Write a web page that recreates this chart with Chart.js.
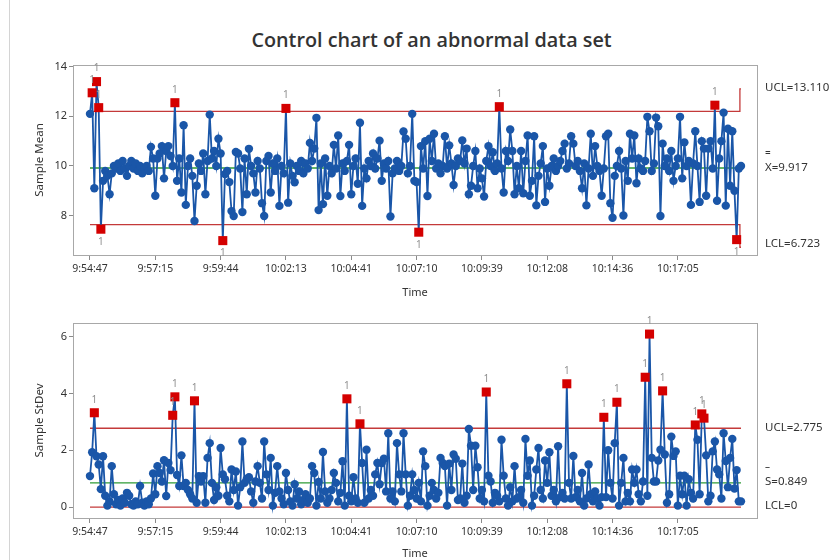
<!DOCTYPE html>
<html lang="en">
<head>
  <meta charset="UTF-8">
  <title>Control chart of an abnormal data set</title>
  <script src="https://cdn.jsdelivr.net/npm/chart.js"></script>
  <style>
    html, body { margin: 0; padding: 0; background: #fff; }
    body { width: 837px; height: 560px; position: relative; overflow: hidden; }
    .frame { position: absolute; left: 9px; top: 0; width: 1px; height: 560px; background: #d4d4d4; }
    h1 { position: absolute; left: 0; top: 27px; width: 863px; margin: 0; text-align: center;
         font: 600 19.8px "Open Sans", sans-serif; color: #333; line-height: 26px; }
    canvas { position: absolute; left: 0; }
    #meanChart { top: 0; }
    #sdChart { top: 300px; }
  </style>
</head>
<body>
  <div class="frame"></div>
  <h1>Control chart of an abnormal data set</h1>
  <canvas id="meanChart" width="837" height="310"></canvas>
  <canvas id="sdChart" width="837" height="260"></canvas>
  <script>
    // time stamps shown under every 30th subgroup
    const timeLabels = ['9:54:47', '9:57:15', '9:59:44', '10:02:13', '10:04:41',
                        '10:07:10', '10:09:39', '10:12:08', '10:14:36', '10:17:05'];
    const tickStep = 30;

    // subgroup means
    const sampleMeans = [
      12.1, 12.95, 9.1, 13.4, 12.35, 7.45, 9.4, 9.8, 9.6, 8.86,
      9.7, 10.0, 9.9, 10.1, 9.8, 10.2, 9.9, 9.6, 10.0, 10.2,
      9.9, 10.1, 9.8, 10.0, 9.7, 9.9, 10.0, 9.8, 10.77, 10.3,
      8.8, 10.3, 10.5, 10.8, 9.5, 10.6, 10.8, 10.4, 10.0, 12.55,
      9.4, 10.3, 8.93, 11.64, 8.43, 10.0, 10.3, 9.6, 7.78, 9.2,
      10.1, 9.8, 10.5, 8.86, 10.2, 12.07, 10.3, 10.6, 10.0, 11.1,
      10.5, 6.99, 9.67, 9.8, 9.35, 8.18, 7.98, 10.56, 10.5, 9.9,
      8.14, 10.3, 8.86, 10.69, 10.0, 9.7, 8.93, 10.2, 9.9, 8.5,
      7.98, 10.2, 10.4, 8.93, 10.1, 9.8, 10.3, 8.39, 10.0, 9.7,
      12.32, 8.52, 10.1, 9.6, 9.34, 10.0, 9.8, 10.2, 9.7, 10.1,
      9.9, 10.93, 10.2, 10.7, 11.94, 8.22, 10.1, 8.46, 10.3, 8.8,
      10.0, 9.7, 10.85, 9.9, 11.23, 8.79, 10.1, 9.8, 10.2, 10.85,
      8.86, 10.0, 10.3, 9.28, 11.74, 8.39, 9.9, 9.5, 10.2, 10.0,
      10.5, 9.9, 10.3, 11.02, 9.4, 10.1, 9.9, 10.2, 7.96, 9.7,
      9.9, 10.2, 9.8, 10.0, 11.39, 11.1, 9.7, 10.0, 12.1, 9.4,
      9.35, 7.33, 10.8, 9.9, 11.0, 8.79, 11.1, 10.2, 11.3, 9.9,
      10.1, 9.7, 10.0, 11.2, 9.9, 10.83, 10.1, 9.23, 10.0, 10.3,
      10.2, 11.03, 10.1, 10.7, 8.86, 9.2, 10.0, 10.6, 9.1, 9.9,
      9.5, 8.77, 10.2, 10.8, 10.0, 10.55, 9.8, 10.1, 12.39, 9.9,
      8.93, 10.6, 10.2, 11.47, 10.6, 8.86, 10.0, 9.1, 10.6, 8.9,
      10.2, 11.23, 8.8, 9.4, 11.2, 8.41, 9.6, 10.1, 10.8, 8.55,
      9.9, 9.2, 10.0, 10.3, 9.8, 10.0, 10.2, 10.6, 10.9, 9.9,
      10.1, 11.2, 10.9, 10.0, 10.2, 9.8, 9.1, 10.1, 8.41, 9.9,
      11.3, 9.6, 10.8, 10.0, 9.8, 8.8, 9.9, 11.2, 11.3, 8.5,
      7.91, 9.6, 10.0, 10.6, 9.9, 8.0, 10.2, 9.4, 11.3, 10.3,
      11.23, 9.3, 10.3, 9.9, 9.8, 10.2, 11.98, 11.4, 9.8, 10.1,
      11.95, 11.6, 7.98, 10.9, 10.0, 10.3, 9.8, 10.6, 9.4, 10.0,
      10.3, 11.98, 9.5, 10.95, 10.0, 10.2, 8.43, 10.1, 11.4, 10.0,
      8.55, 11.0, 10.7, 8.8, 10.7, 11.0, 9.9, 12.45, 8.6, 10.3,
      11.0, 12.15, 8.4, 11.5, 9.2, 11.4, 9.0, 7.03, 9.9, 10.0
    ];

    // subgroup standard deviations
    const sampleStDevs = [
      1.09, 1.93, 3.32, 1.79, 1.5, 0.63, 1.79, 0.4, 0.05, 0.2,
      1.44, 0.45, 0.1, 0.25, 0.05, 0.3, 0.15, 0.5, 0.4, 0.1,
      0.05, 0.2, 0.1, 0.74, 0.15, 0.05, 0.2, 0.1, 0.3, 1.18,
      0.45, 1.44, 1.2, 0.9, 1.65, 0.39, 1.55, 1.3, 3.23, 3.88,
      1.13, 0.74, 1.82, 0.74, 0.85, 0.6, 0.45, 0.3, 3.74, 0.15,
      1.09, 0.9, 1.09, 0.15, 1.73, 2.25, 0.85, 0.25, 0.7, 0.4,
      2.08, 1.15, 0.98, 0.4, 0.2, 1.32, 0.6, 1.25, 0.05, 0.7,
      2.31, 0.85, 0.98, 1.05, 0.55, 0.15, 0.9, 1.44, 0.85, 0.3,
      2.31, 1.15, 0.6, 1.73, 0.05, 0.5, 1.44, 0.55, 0.3, 0.1,
      1.2, 0.6, 0.2, 0.05, 0.8, 0.3, 0.55, 0.1, 0.25, 0.45,
      0.15, 0.3, 1.44, 1.2, 0.05, 0.88, 0.3, 1.94, 0.55, 0.15,
      0.3, 0.6, 1.2, 0.85, 0.2, 0.5, 1.61, 0.05, 3.81, 0.4,
      0.2, 1.05, 0.3, 0.15, 2.93, 1.55, 0.15, 2.02, 0.3, 0.6,
      0.4, 1.15, 1.55, 0.8, 1.55, 1.7, 0.55, 2.6, 0.3, 0.55,
      0.2, 2.25, 1.15, 0.55, 2.6, 1.15, 0.05, 0.4, 1.15, 0.6,
      0.3, 0.85, 0.2, 1.96, 1.44, 0.05, 0.4, 0.85, 0.6, 0.3,
      0.5, 1.73, 1.55, 1.44, 0.05, 1.53, 0.6, 1.85, 1.7, 0.25,
      0.3, 1.53, 0.15, 0.4, 2.75, 2.16, 0.6, 2.16, 1.4, 0.3,
      0.6, 0.2, 4.05, 1.1, 0.9, 0.15, 0.5, 0.4, 0.2, 2.37,
      1.1, 0.3, 0.05, 0.7, 0.2, 1.44, 0.3, 0.35, 0.6, 0.15,
      2.4, 1.1, 1.64, 0.05, 0.4, 1.32, 2.08, 0.6, 0.3, 1.64,
      0.85, 1.93, 0.4, 0.6, 0.2, 2.14, 0.35, 0.5, 0.3, 4.34,
      0.85, 0.3, 1.8, 0.35, 0.6, 0.2, 1.2, 0.05, 0.3, 1.5,
      0.45, 0.2, 0.55, 0.3, 0.05, 0.35, 3.16, 0.35, 2.0, 0.85,
      0.3, 2.25, 3.69, 0.05, 0.85, 1.73, 0.2, 0.5, 0.2, 1.32,
      0.85, 1.32, 0.45, 0.2, 0.9, 4.57, 0.4, 6.09, 1.73, 0.9,
      0.9, 1.64, 2.02, 4.09, 1.85, 0.15, 0.45, 2.48, 1.8, 1.96,
      0.05, 1.1, 0.45, 1.1, 0.05, 0.98, 0.5, 0.3, 2.89, 2.37,
      0.45, 3.28, 3.13, 1.82, 0.2, 0.4, 1.96, 2.31, 1.32, 1.15,
      0.3, 2.6, 1.62, 0.7, 1.73, 2.4, 0.65, 1.3, 0.2, 0.2
    ];

    // control limits; the last subgroup is smaller, so its Xbar limits are wider
    const meanCenter = 9.917;
    const meanUCL = [12.197, 13.110];
    const meanLCL = [7.637, 6.723];
    const sdCenter = 0.849;
    const sdUCL = 2.775;
    const sdLCL = 0;

    const BLUE = '#1a56a8';
    const RED = '#d40000';
    const LIMIT = '#c43a3a';
    const GREEN = '#2e9b36';

    Chart.defaults.font.family = '"Noto Sans", "Open Sans", sans-serif';
    Chart.defaults.color = '#333';

    const n = sampleMeans.length;
    const pts = values => values.map((v, i) => ({ x: i, y: v }));
    const perSubgroup = (normal, last) => sampleMeans.map((_, i) => (i === n - 1 ? last : normal));

    function controlChart(id, cfg) {
      const out = cfg.values.map((v, i) => v > cfg.ucl[i] || v < cfg.lcl[i]);

      const extras = {
        id: 'extras',
        beforeDatasetsDraw(chart) {
          const { ctx, chartArea: a } = chart;
          ctx.save();
          ctx.strokeStyle = '#a8a8a8';
          ctx.lineWidth = 1;
          ctx.strokeRect(Math.round(a.left) + 0.5, Math.round(a.top) + 0.5,
                         Math.round(a.width), Math.round(a.height));
          ctx.restore();
        },
        afterDatasetsDraw(chart) {
          const { ctx } = chart;
          const meta = chart.getDatasetMeta(0);
          ctx.save();
          ctx.fillStyle = '#8f8f8f';
          ctx.font = '10px "Noto Sans", sans-serif';
          ctx.textAlign = 'center';
          ctx.textBaseline = 'middle';
          meta.data.forEach((el, i) => {
            if (!out[i]) return;
            const high = cfg.values[i] > cfg.ucl[i];
            ctx.fillText('1', el.x, high ? el.y - 13 : el.y + 13);
          });
          ctx.restore();
        },
        afterDraw(chart) {
          const { ctx } = chart;
          const y = chart.scales.y;
          ctx.save();
          ctx.fillStyle = '#333';
          ctx.textAlign = 'left';
          ctx.textBaseline = 'middle';
          cfg.sideLabels.forEach(l => {
            const py = y.getPixelForValue(l.value) + (l.dy || 0);
            ctx.font = '11.5px "Noto Sans", sans-serif';
            ctx.fillText(l.text, 765, py);
            if (l.bar) {
              ctx.font = '10px "Noto Sans", sans-serif';
              ctx.fillText(l.bar, 765, py - 15);
            }
          });
          ctx.restore();
        }
      };

      return new Chart(document.getElementById(id), {
        type: 'line',
        data: {
          datasets: [
            {
              data: pts(cfg.values),
              borderColor: BLUE,
              borderWidth: 1.8,
              pointStyle: c => (out[c.dataIndex] ? 'rect' : 'circle'),
              pointRadius: c => (out[c.dataIndex] ? 6.4 : 4.2),
              pointBackgroundColor: c => (out[c.dataIndex] ? RED : BLUE),
              pointBorderWidth: 0
            },
            { data: pts(cfg.ucl), borderColor: LIMIT, borderWidth: 1.3, pointRadius: 0, stepped: 'middle' },
            { data: pts(cfg.lcl), borderColor: LIMIT, borderWidth: 1.3, pointRadius: 0, stepped: 'middle' },
            { data: pts(cfg.values.map(() => cfg.center)), borderColor: GREEN, borderWidth: 1.3, pointRadius: 0 }
          ]
        },
        options: {
          responsive: false,
          animation: false,
          events: [],
          layout: { padding: { left: 28, right: 80, top: cfg.padTop, bottom: 0 } },
          plugins: { legend: { display: false }, tooltip: { enabled: false } },
          scales: {
            x: {
              type: 'linear',
              min: -7.8,
              max: 306.35,
              afterBuildTicks: s => { s.ticks = timeLabels.map((_, k) => ({ value: k * tickStep })); },
              afterFit: s => { s.height = cfg.xHeight; },
              ticks: {
                autoSkip: false,
                maxRotation: 0,
                padding: 3,
                font: { size: 10.5 },
                callback: v => timeLabels[Math.round(v / tickStep)]
              },
              grid: { drawOnChartArea: false, tickLength: 5, color: '#8a8a8a' },
              border: { display: false },
              title: { display: true, text: 'Time', font: { size: 11 }, padding: { top: 0, bottom: cfg.timePad } }
            },
            y: {
              min: cfg.yMin,
              max: cfg.yMax,
              afterBuildTicks: s => { s.ticks = cfg.yTicks.map(v => ({ value: v })); },
              afterFit: s => { s.width = 45; },
              ticks: { padding: 2, font: { size: 11 } },
              grid: { drawOnChartArea: false, tickLength: 4, color: '#8a8a8a' },
              border: { display: false },
              title: { display: true, text: cfg.yTitle, font: { size: 11.5 }, padding: { top: 5, bottom: 0 } }
            }
          }
        },
        plugins: [extras]
      });
    }

    controlChart('meanChart', {
      values: sampleMeans,
      ucl: perSubgroup(meanUCL[0], meanUCL[1]),
      lcl: perSubgroup(meanLCL[0], meanLCL[1]),
      center: meanCenter,
      yMin: 6.41, yMax: 14.07, yTicks: [8, 10, 12, 14],
      yTitle: 'Sample Mean',
      padTop: 65, xHeight: 55, timePad: 11,
      sideLabels: [
        { text: 'UCL=13.110', value: meanUCL[1], dy: -1 },
        { text: 'X=9.917', bar: '=', value: meanCenter, dy: 0 },
        { text: 'LCL=6.723', value: meanLCL[1], dy: -4 }
      ]
    });

    controlChart('sdChart', {
      values: sampleStDevs,
      ucl: sampleStDevs.map(() => sdUCL),
      lcl: sampleStDevs.map(() => sdLCL),
      center: sdCenter,
      yMin: -0.386, yMax: 6.48, yTicks: [0, 2, 4, 6],
      yTitle: 'Sample StDev',
      padTop: 23, xHeight: 42, timePad: 0,
      sideLabels: [
        { text: 'UCL=2.775', value: sdUCL, dy: -1 },
        { text: 'S=0.849', bar: '–', value: sdCenter, dy: -1 },
        { text: 'LCL=0', value: sdLCL, dy: -1 }
      ]
    });
  </script>
</body>
</html>
